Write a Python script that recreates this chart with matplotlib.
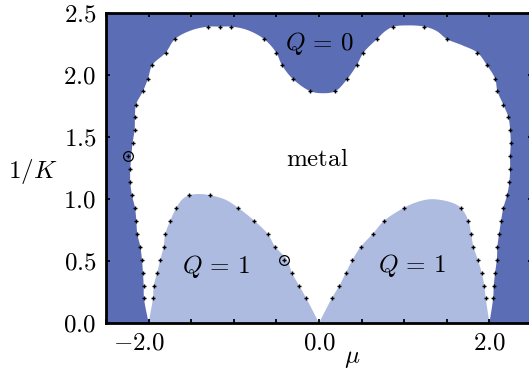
import numpy as np
import matplotlib
matplotlib.use('Agg')
import matplotlib.pyplot as plt
import matplotlib.transforms as mtransforms

plt.rcParams['mathtext.fontset'] = 'cm'
plt.rcParams['font.family'] = ['DejaVu Serif']

# boundary points (mu, 1/K)
left_outer = [(-2.054, 0.20), (-2.058, 0.30), (-2.066, 0.405), (-2.078, 0.51),
              (-2.097, 0.615), (-2.133, 0.72), (-2.144, 0.825), (-2.160, 0.93),
              (-2.195, 1.03), (-2.215, 1.14), (-2.215, 1.24), (-2.188, 1.45),
              (-2.164, 1.56), (-2.160, 1.66), (-2.148, 1.76), (-2.066, 1.87),
              (-2.007, 1.97), (-1.957, 2.08), (-1.800, 2.18), (-1.690, 2.29),
              (-1.300, 2.39), (-1.163, 2.39), (-1.033, 2.39)]
q0_dip = [(-0.645, 2.29), (-0.502, 2.18), (-0.435, 2.08), (-0.310, 1.97),
          (-0.103, 1.87), (0.193, 1.87), (0.334, 1.97), (0.444, 2.08),
          (0.522, 2.18), (0.680, 2.29), (0.874, 2.39), (1.238, 2.39)]
right_outer = [(1.500, 2.29), (1.860, 2.18), (1.970, 2.08), (2.067, 1.97),
               (2.094, 1.87), (2.164, 1.76), (2.223, 1.66), (2.243, 1.56),
               (2.250, 1.45), (2.243, 1.35), (2.243, 1.24), (2.235, 1.14),
               (2.207, 1.03), (2.164, 0.93), (2.137, 0.825), (2.114, 0.72),
               (2.094, 0.615), (2.087, 0.51), (2.067, 0.405), (2.051, 0.30),
               (2.044, 0.20)]
dome_left = [(-1.949, 0.20), (-1.940, 0.30), (-1.900, 0.405), (-1.863, 0.51),
             (-1.824, 0.615), (-1.804, 0.72), (-1.745, 0.825), (-1.675, 0.93),
             (-1.523, 1.03), (-1.276, 1.03), (-0.951, 0.93), (-0.760, 0.825),
             (-0.604, 0.72), (-0.514, 0.615), (-0.318, 0.405), (-0.232, 0.30),
             (-0.150, 0.20)]
dome_right = [(0.151, 0.20), (0.237, 0.30), (0.315, 0.405), (0.393, 0.51),
              (0.490, 0.615), (0.632, 0.72), (0.765, 0.825), (1.000, 0.93),
              (1.664, 0.93), (1.754, 0.825), (1.785, 0.72), (1.813, 0.615),
              (1.864, 0.51), (1.910, 0.405), (1.940, 0.30), (1.957, 0.20)]
circled = [(-2.242, 1.35), (-0.408, 0.51)]

# region outlines: the points above plus a few shape vertices of the smooth curves
metal_edge = ([(-2.0, 0.0)] + left_outer[:-3] + [(-1.50, 2.36)] + left_outer[-3:]
              + [(-0.85, 2.365)] + q0_dip[:5] + [(0.045, 1.853)] + q0_dip[5:10]
              + [(0.78, 2.355)] + q0_dip[10:11] + [(1.05, 2.40)] + q0_dip[11:]
              + [(1.38, 2.355)] + right_outer[:1] + [(1.68, 2.24)] + right_outer[1:]
              + [(2.0, 0.0)])
q1_left_edge = ([(-2.0, 0.0)] + dome_left[:8] + [(-1.60, 1.0)] + dome_left[8:9]
                + [(-1.40, 1.04)] + dome_left[9:10] + [(-1.10, 0.995)]
                + dome_left[10:14] + [(-0.375, 0.51)] + dome_left[14:] + [(0.0, 0.0)])
q1_right_edge = ([(0.0, 0.0)] + dome_right[:8] + [(1.15, 0.975), (1.30, 0.998),
                 (1.45, 0.99), (1.58, 0.965)] + dome_right[8:] + [(2.0, 0.0)])

dark = '#5b6db5'
light = '#adbbe0'


def smooth(edge, n=10, ys=1.455):
    # centripetal catmull-rom through the outline vertices
    p = np.array(edge, float) * [1.0, ys]
    p = np.vstack([2*p[0] - p[1], p, 2*p[-1] - p[-2]])
    out = []
    for i in range(1, len(p) - 2):
        P0, P1, P2, P3 = p[i-1], p[i], p[i+1], p[i+2]
        t0 = 0.0
        t1 = t0 + np.linalg.norm(P1 - P0)**0.5
        t2 = t1 + np.linalg.norm(P2 - P1)**0.5
        t3 = t2 + np.linalg.norm(P3 - P2)**0.5
        t = np.linspace(t1, t2, n, endpoint=False)[:, None]
        A1 = (t1 - t)/(t1 - t0)*P0 + (t - t0)/(t1 - t0)*P1
        A2 = (t2 - t)/(t2 - t1)*P1 + (t - t1)/(t2 - t1)*P2
        A3 = (t3 - t)/(t3 - t2)*P2 + (t - t2)/(t3 - t2)*P3
        B1 = (t2 - t)/(t2 - t0)*A1 + (t - t0)/(t2 - t0)*A2
        B2 = (t3 - t)/(t3 - t1)*A2 + (t - t1)/(t3 - t1)*A3
        out.append((t2 - t)/(t2 - t1)*B1 + (t - t1)/(t2 - t1)*B2)
    out.append(p[-2:-1])
    return np.vstack(out) / [1.0, ys]


fig = plt.figure(figsize=(5.29, 3.71), dpi=100)
ax = fig.add_axes([106/529, 48/371, 426/529, 310/371])
ax.set_facecolor(dark)

for edge, col in [(metal_edge, 'white'), (q1_left_edge, light), (q1_right_edge, light)]:
    e = smooth(edge)
    ax.fill(e[:, 0], e[:, 1], color=col, lw=0, zorder=1)

pts = np.array(left_outer + q0_dip + right_outer + dome_left + dome_right + circled)
ax.plot(pts[:, 0], pts[:, 1], '+', color='black', ms=3.2, mew=1.0, zorder=3)
c = np.array(circled)
ax.plot(c[:, 0], c[:, 1], 'o', mfc='none', mec='black', ms=7, mew=0.9, zorder=3)

fs = 18
ax.text(0.0, 2.258, r'$Q\,=\,0$', fontsize=fs, ha='center', va='center')
ax.text(-0.02, 1.315, r'$\mathrm{metal}$', fontsize=fs, ha='center', va='center')
ax.text(-1.206, 0.456, r'$Q\,=\,1$', fontsize=fs, ha='center', va='center')
ax.text(1.09, 0.46, r'$Q\,=\,1$', fontsize=fs, ha='center', va='center')

ax.set_xlim(-2.5, 2.5)
ax.set_ylim(0, 2.5)
xt = np.arange(-2.5, 2.51, 0.5)
ax.set_xticks(xt)
ax.set_xticklabels([r'$-2.0$' if abs(v + 2) < 1e-9 else r'$0.0$' if abs(v) < 1e-9
                    else r'$2.0$' if abs(v - 2) < 1e-9 else '' for v in xt])
yt = np.arange(0, 2.51, 0.5)
ax.set_yticks(yt)
ax.set_yticklabels([r'$%.1f$' % v for v in yt])
ax.tick_params(direction='in', length=3, width=1.3, top=True, right=True,
               labelsize=fs, color='black')
ax.tick_params(axis='x', pad=6)
ax.tick_params(axis='y', pad=7)
for lab, dx in zip(ax.get_xticklabels(), [0, -6.8, 0, 0, -1.4, 0, 0, -2.9, 0, 0, 0]):
    lab.set_transform(lab.get_transform() + mtransforms.ScaledTranslation(dx/72, 0, fig.dpi_scale_trans))
for s in ax.spines.values():
    s.set_linewidth(2.0)
    s.set_zorder(4)

fig.text(32.5/529, 1 - 172/371, r'$1/K$', fontsize=18, ha='center', va='center')
fig.text(352.5/529, 1 - 358/371, r'$\mu$', fontsize=fs, ha='center', va='center')

fig.savefig('out.png', dpi=100)
